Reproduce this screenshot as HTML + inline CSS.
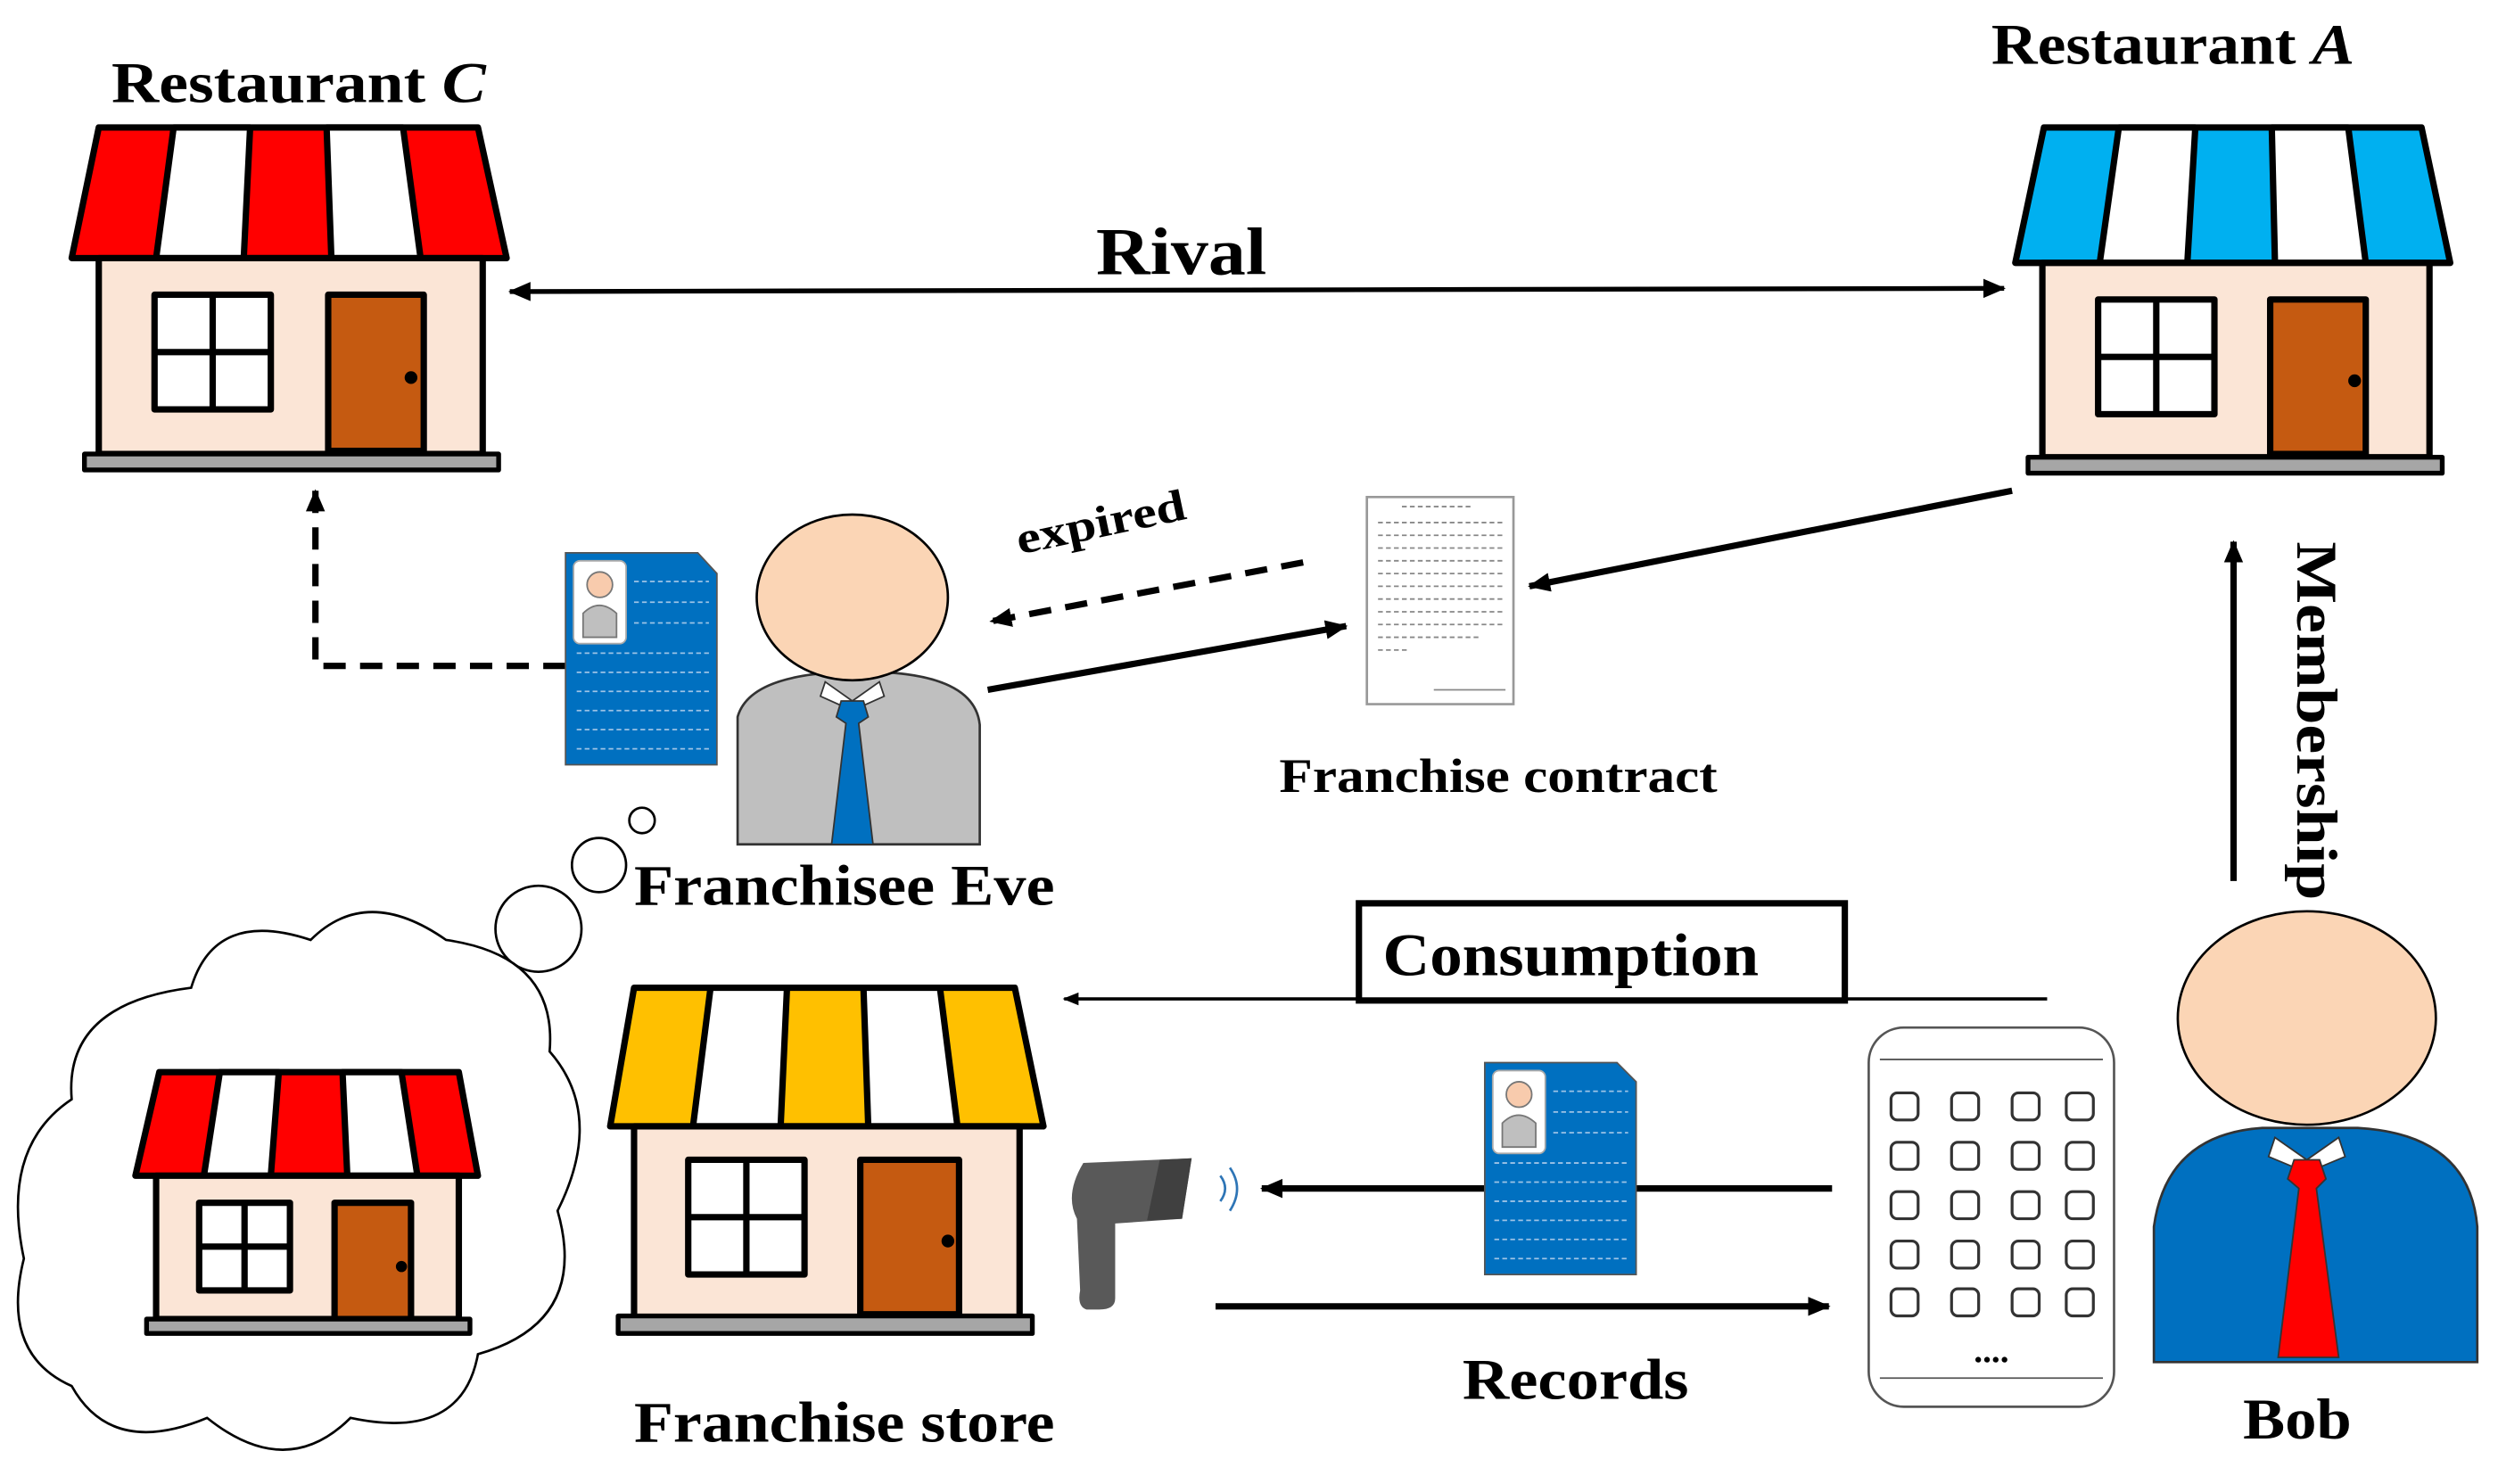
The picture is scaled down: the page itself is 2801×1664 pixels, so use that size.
<!DOCTYPE html>
<html><head><meta charset="utf-8"><style>html,body{margin:0;padding:0;background:#fff}svg{display:block}</style></head><body>
<svg width="2801" height="1664" viewBox="0 0 1568 931.5" preserveAspectRatio="none" xmlns="http://www.w3.org/2000/svg" font-family="Liberation Serif, serif" font-weight="bold">
<defs>
<marker id="ah" markerWidth="10" markerHeight="10" refX="9" refY="5" orient="auto-start-reverse" markerUnits="userSpaceOnUse" viewBox="0 0 10 10"><path d="M0,1 L10,5 L0,9 Z" fill="#000"/></marker>
<marker id="ah2" markerWidth="14" markerHeight="14" refX="13" refY="7" orient="auto-start-reverse" markerUnits="userSpaceOnUse" viewBox="0 0 14 14"><path d="M0,1 L14,7 L0,13 Z" fill="#000"/></marker>
</defs>

<!-- Restaurant C -->
<text x="70" y="64" font-size="36" textLength="235" lengthAdjust="spacingAndGlyphs">Restaurant <tspan font-style="italic">C</tspan></text>
<g stroke="#000" stroke-width="4" stroke-linejoin="round">
<path d="M62,80 L300,80 L318,162 L45,162 Z" fill="#ff0000"/>
<path d="M109,80 L157,80 L153,162 L98,162 Z" fill="#fff"/>
<path d="M205,80 L253,80 L264,162 L208,162 Z" fill="#fff"/>
<rect x="62" y="162" width="241" height="123" fill="#fbe5d6"/>
<rect x="97" y="185" width="73" height="72" fill="#fff"/>
<line x1="133.5" y1="185" x2="133.5" y2="257"/><line x1="97" y1="221" x2="170" y2="221"/>
<rect x="206" y="185" width="60" height="98" fill="#c55a11"/>
<rect x="53" y="285" width="260" height="10" fill="#a6a6a6" stroke-width="3"/>
</g>
<circle cx="258" cy="237" r="4"/>

<!-- Restaurant A -->
<text x="1250" y="40" font-size="36" textLength="228" lengthAdjust="spacingAndGlyphs">Restaurant <tspan font-style="italic">A</tspan></text>
<g stroke="#000" stroke-width="4" stroke-linejoin="round">
<path d="M1283,80 L1520,80 L1538,165 L1265,165 Z" fill="#00b0f0"/>
<path d="M1330,80 L1378,80 L1373,165 L1318,165 Z" fill="#fff"/>
<path d="M1426,80 L1474,80 L1485,165 L1428,165 Z" fill="#fff"/>
<rect x="1282" y="165" width="243" height="122" fill="#fbe5d6"/>
<rect x="1317" y="188" width="73" height="72" fill="#fff"/>
<line x1="1353.5" y1="188" x2="1353.5" y2="260"/><line x1="1317" y1="224" x2="1390" y2="224"/>
<rect x="1425" y="188" width="60" height="97" fill="#c55a11"/>
<rect x="1273" y="287" width="260" height="10" fill="#a6a6a6" stroke-width="3"/>
</g>
<circle cx="1478" cy="239" r="4"/>

<!-- Rival -->
<text x="688" y="172" font-size="42" textLength="107" lengthAdjust="spacingAndGlyphs">Rival</text>
<line x1="320" y1="183" x2="1258" y2="181" stroke="#000" stroke-width="3" marker-start="url(#ah2)" marker-end="url(#ah2)"/>

<!-- dashed to C -->
<polyline points="355,418 198,418 198,308" fill="none" stroke="#000" stroke-width="4" stroke-dasharray="14,9" marker-end="url(#ah2)"/>

<!-- Eve doc -->
<path d="M355,347 L438,347 L450,360 L450,480 L355,480 Z" fill="#0070c0" stroke="#555" stroke-width="1"/>
<g stroke="#9dc3e6" stroke-width="1" stroke-dasharray="3,2">
<line x1="398" y1="365" x2="445" y2="365"/><line x1="398" y1="378" x2="445" y2="378"/><line x1="398" y1="391" x2="445" y2="391"/>
<line x1="362" y1="410" x2="445" y2="410"/><line x1="362" y1="422" x2="445" y2="422"/><line x1="362" y1="434" x2="445" y2="434"/><line x1="362" y1="446" x2="445" y2="446"/><line x1="362" y1="458" x2="445" y2="458"/><line x1="362" y1="470" x2="445" y2="470"/>
</g>
<rect x="360" y="352" width="33" height="52" rx="4" fill="#fff" stroke="#aaa"/>
<circle cx="376.5" cy="367" r="8" fill="#f8cbad" stroke="#777"/>
<path d="M366,400 L366,385 Q376,375 387,385 L387,400 Z" fill="#bfbfbf" stroke="#777"/>

<!-- Eve -->
<path d="M463,530 L463,450 Q470,425 525,422 L555,422 Q612,425 615,455 L615,530 Z" fill="#bfbfbf" stroke="#333" stroke-width="1.5"/>
<path d="M518,428 L535,440 L552,428 L555,437 L535,446 L515,437 Z" fill="#fff" stroke="#333"/>
<path d="M528,440 L542,440 L545,450 L539,454 L548,530 L522,530 L531,454 L525,450 Z" fill="#0070c0" stroke="#333"/>
<ellipse cx="535" cy="375" rx="60" ry="52" fill="#fbd5b5" stroke="#000" stroke-width="1.5"/>
<text x="398" y="568" font-size="36" textLength="264" lengthAdjust="spacingAndGlyphs">Franchisee Eve</text>

<!-- thought -->
<circle cx="403" cy="515" r="8" fill="#fff" stroke="#000" stroke-width="1.5"/>
<circle cx="376" cy="543" r="17" fill="#fff" stroke="#000" stroke-width="1.5"/>
<circle cx="338" cy="583" r="27" fill="#fff" stroke="#000" stroke-width="1.5"/>
<path d="M120,620 Q135,570 195,590 Q230,555 280,590 Q350,600 345,660 Q380,700 350,760 Q370,830 300,850 Q290,905 220,890 Q180,930 130,890 Q70,915 45,870 Q0,850 15,790 Q0,720 45,690 Q40,630 120,620 Z" fill="#fff" stroke="#000" stroke-width="1.5"/>

<!-- small red house -->
<g stroke="#000" stroke-width="4" stroke-linejoin="round">
<path d="M100,673 L288,673 L300,738 L85,738 Z" fill="#ff0000"/>
<path d="M138,673 L175,673 L170,738 L128,738 Z" fill="#fff"/>
<path d="M215,673 L252,673 L262,738 L218,738 Z" fill="#fff"/>
<rect x="98" y="738" width="190" height="90" fill="#fbe5d6"/>
<rect x="125" y="755" width="57" height="55" fill="#fff"/>
<line x1="153.5" y1="755" x2="153.5" y2="810"/><line x1="125" y1="782.5" x2="182" y2="782.5"/>
<rect x="210" y="755" width="48" height="73" fill="#c55a11"/>
<rect x="92" y="828" width="203" height="9" fill="#a6a6a6" stroke-width="3"/>
</g>
<circle cx="252" cy="795" r="3.5"/>

<!-- expired -->
<line x1="818" y1="353" x2="622" y2="390" stroke="#000" stroke-width="4" stroke-dasharray="14,9" marker-end="url(#ah2)"/>
<text x="0" y="0" font-size="28" textLength="108" lengthAdjust="spacingAndGlyphs" transform="translate(640,348) rotate(-12)">expired</text>
<line x1="620" y1="433" x2="845" y2="393" stroke="#000" stroke-width="4" marker-end="url(#ah2)"/>

<!-- contract -->
<path d="M858,312 L950,312 L950,442 L858,442 Z" fill="#fff" stroke="#999" stroke-width="1.5"/>
<g stroke="#888" stroke-width="1" stroke-dasharray="3,2">
<line x1="880" y1="318" x2="925" y2="318"/>
<line x1="865" y1="328" x2="945" y2="328"/><line x1="865" y1="336" x2="945" y2="336"/><line x1="865" y1="344" x2="945" y2="344"/><line x1="865" y1="352" x2="945" y2="352"/><line x1="865" y1="360" x2="945" y2="360"/><line x1="865" y1="368" x2="945" y2="368"/><line x1="865" y1="376" x2="945" y2="376"/><line x1="865" y1="384" x2="945" y2="384"/><line x1="865" y1="392" x2="945" y2="392"/><line x1="865" y1="400" x2="930" y2="400"/><line x1="865" y1="408" x2="885" y2="408"/>
</g>
<line x1="900" y1="433" x2="945" y2="433" stroke="#888" stroke-width="1"/>
<line x1="1263" y1="308" x2="960" y2="368" stroke="#000" stroke-width="4" marker-end="url(#ah2)"/>
<text x="803" y="497" font-size="30" textLength="275" lengthAdjust="spacingAndGlyphs">Franchise contract</text>

<!-- Membership arrow -->
<line x1="1402" y1="553" x2="1402" y2="340" stroke="#000" stroke-width="4" marker-end="url(#ah2)"/>

<!-- Bob -->
<path d="M1352,855 L1352,770 Q1360,712 1420,708 L1480,708 Q1550,712 1555,770 L1555,855 Z" fill="#0070c0" stroke="#333" stroke-width="1.5"/>
<path d="M1428,714 L1448,728 L1468,714 L1472,726 L1448,736 L1424,726 Z" fill="#fff" stroke="#333"/>
<path d="M1440,728 L1456,728 L1460,740 L1454,746 L1468,852 L1430,852 L1443,746 L1436,740 Z" fill="#ff0000" stroke="#333"/>
<ellipse cx="1448" cy="639" rx="81" ry="67" fill="#fbd5b5" stroke="#000" stroke-width="1.5"/>
<text x="1408" y="903" font-size="36" textLength="68" lengthAdjust="spacingAndGlyphs">Bob</text>

<text x="0" y="0" font-size="36" textLength="225" lengthAdjust="spacingAndGlyphs" transform="translate(1442,340) rotate(90)">Membership</text>

<!-- Consumption -->
<line x1="1285" y1="627" x2="668" y2="627" stroke="#000" stroke-width="2" marker-end="url(#ah)"/>
<rect x="853" y="567" width="305" height="61" fill="#fff" stroke="#000" stroke-width="4"/>
<text x="868" y="612" font-size="38" textLength="236" lengthAdjust="spacingAndGlyphs">Consumption</text>

<!-- franchise store -->
<g stroke="#000" stroke-width="4" stroke-linejoin="round">
<path d="M398,620 L637,620 L655,707 L383,707 Z" fill="#ffc000"/>
<path d="M446,620 L494,620 L490,707 L435,707 Z" fill="#fff"/>
<path d="M542,620 L590,620 L601,707 L545,707 Z" fill="#fff"/>
<rect x="398" y="707" width="242" height="121" fill="#fbe5d6"/>
<rect x="432" y="728" width="73" height="72" fill="#fff"/>
<line x1="468.5" y1="728" x2="468.5" y2="800"/><line x1="432" y1="764" x2="505" y2="764"/>
<rect x="540" y="728" width="62" height="97" fill="#c55a11"/>
<rect x="388" y="826" width="260" height="11" fill="#a6a6a6" stroke-width="3"/>
</g>
<circle cx="595" cy="779" r="4"/>
<text x="398" y="905" font-size="36" textLength="264" lengthAdjust="spacingAndGlyphs">Franchise store</text>

<!-- scanner -->
<path d="M680,730 L748,727 L742,765 L700,768 L700,815 Q700,822 690,822 L682,822 Q676,820 678,810 L676,765 Q668,750 680,730 Z" fill="#595959"/>
<path d="M728,728 L748,727 L742,765 L720,766 Z" fill="#404040"/>
<path d="M766,738 Q772,746 766,754" fill="none" stroke="#2e75b6" stroke-width="1.5"/>
<path d="M772,733 Q781,746 772,760" fill="none" stroke="#2e75b6" stroke-width="1.5"/>

<!-- records arrows -->
<line x1="1150" y1="746" x2="792" y2="746" stroke="#000" stroke-width="4" marker-end="url(#ah2)"/>
<path d="M932,667 L1015,667 L1027,679 L1027,800 L932,800 Z" fill="#0070c0" stroke="#555" stroke-width="1"/>
<g stroke="#9dc3e6" stroke-width="1" stroke-dasharray="3,2">
<line x1="975" y1="685" x2="1022" y2="685"/><line x1="975" y1="698" x2="1022" y2="698"/><line x1="975" y1="711" x2="1022" y2="711"/>
<line x1="938" y1="730" x2="1022" y2="730"/><line x1="938" y1="742" x2="1022" y2="742"/><line x1="938" y1="754" x2="1022" y2="754"/><line x1="938" y1="766" x2="1022" y2="766"/><line x1="938" y1="778" x2="1022" y2="778"/><line x1="938" y1="790" x2="1022" y2="790"/>
</g>
<rect x="937" y="672" width="33" height="52" rx="4" fill="#fff" stroke="#aaa"/>
<circle cx="953.5" cy="687" r="8" fill="#f8cbad" stroke="#777"/>
<path d="M943,720 L943,705 Q953,695 964,705 L964,720 Z" fill="#bfbfbf" stroke="#777"/>
<line x1="763" y1="820" x2="1148" y2="820" stroke="#000" stroke-width="4" marker-end="url(#ah2)"/>
<text x="918" y="878" font-size="36" textLength="142" lengthAdjust="spacingAndGlyphs">Records</text>

<!-- phone -->
<rect x="1173" y="645" width="154" height="238" rx="22" fill="#fff" stroke="#555" stroke-width="1.5"/>
<line x1="1180" y1="665" x2="1320" y2="665" stroke="#555" stroke-width="1"/>
<line x1="1180" y1="865" x2="1320" y2="865" stroke="#555" stroke-width="1"/>
<g fill="#fff" stroke="#333" stroke-width="1.8">
<rect x="1187" y="686" width="17" height="17" rx="4"/><rect x="1225" y="686" width="17" height="17" rx="4"/><rect x="1263" y="686" width="17" height="17" rx="4"/><rect x="1297" y="686" width="17" height="17" rx="4"/>
<rect x="1187" y="717" width="17" height="17" rx="4"/><rect x="1225" y="717" width="17" height="17" rx="4"/><rect x="1263" y="717" width="17" height="17" rx="4"/><rect x="1297" y="717" width="17" height="17" rx="4"/>
<rect x="1187" y="748" width="17" height="17" rx="4"/><rect x="1225" y="748" width="17" height="17" rx="4"/><rect x="1263" y="748" width="17" height="17" rx="4"/><rect x="1297" y="748" width="17" height="17" rx="4"/>
<rect x="1187" y="779" width="17" height="17" rx="4"/><rect x="1225" y="779" width="17" height="17" rx="4"/><rect x="1263" y="779" width="17" height="17" rx="4"/><rect x="1297" y="779" width="17" height="17" rx="4"/>
<rect x="1187" y="809" width="17" height="17" rx="4"/><rect x="1225" y="809" width="17" height="17" rx="4"/><rect x="1263" y="809" width="17" height="17" rx="4"/><rect x="1297" y="809" width="17" height="17" rx="4"/>
</g>
<text x="1250" y="855" font-size="22" text-anchor="middle">....</text>
</svg>
</body></html>
